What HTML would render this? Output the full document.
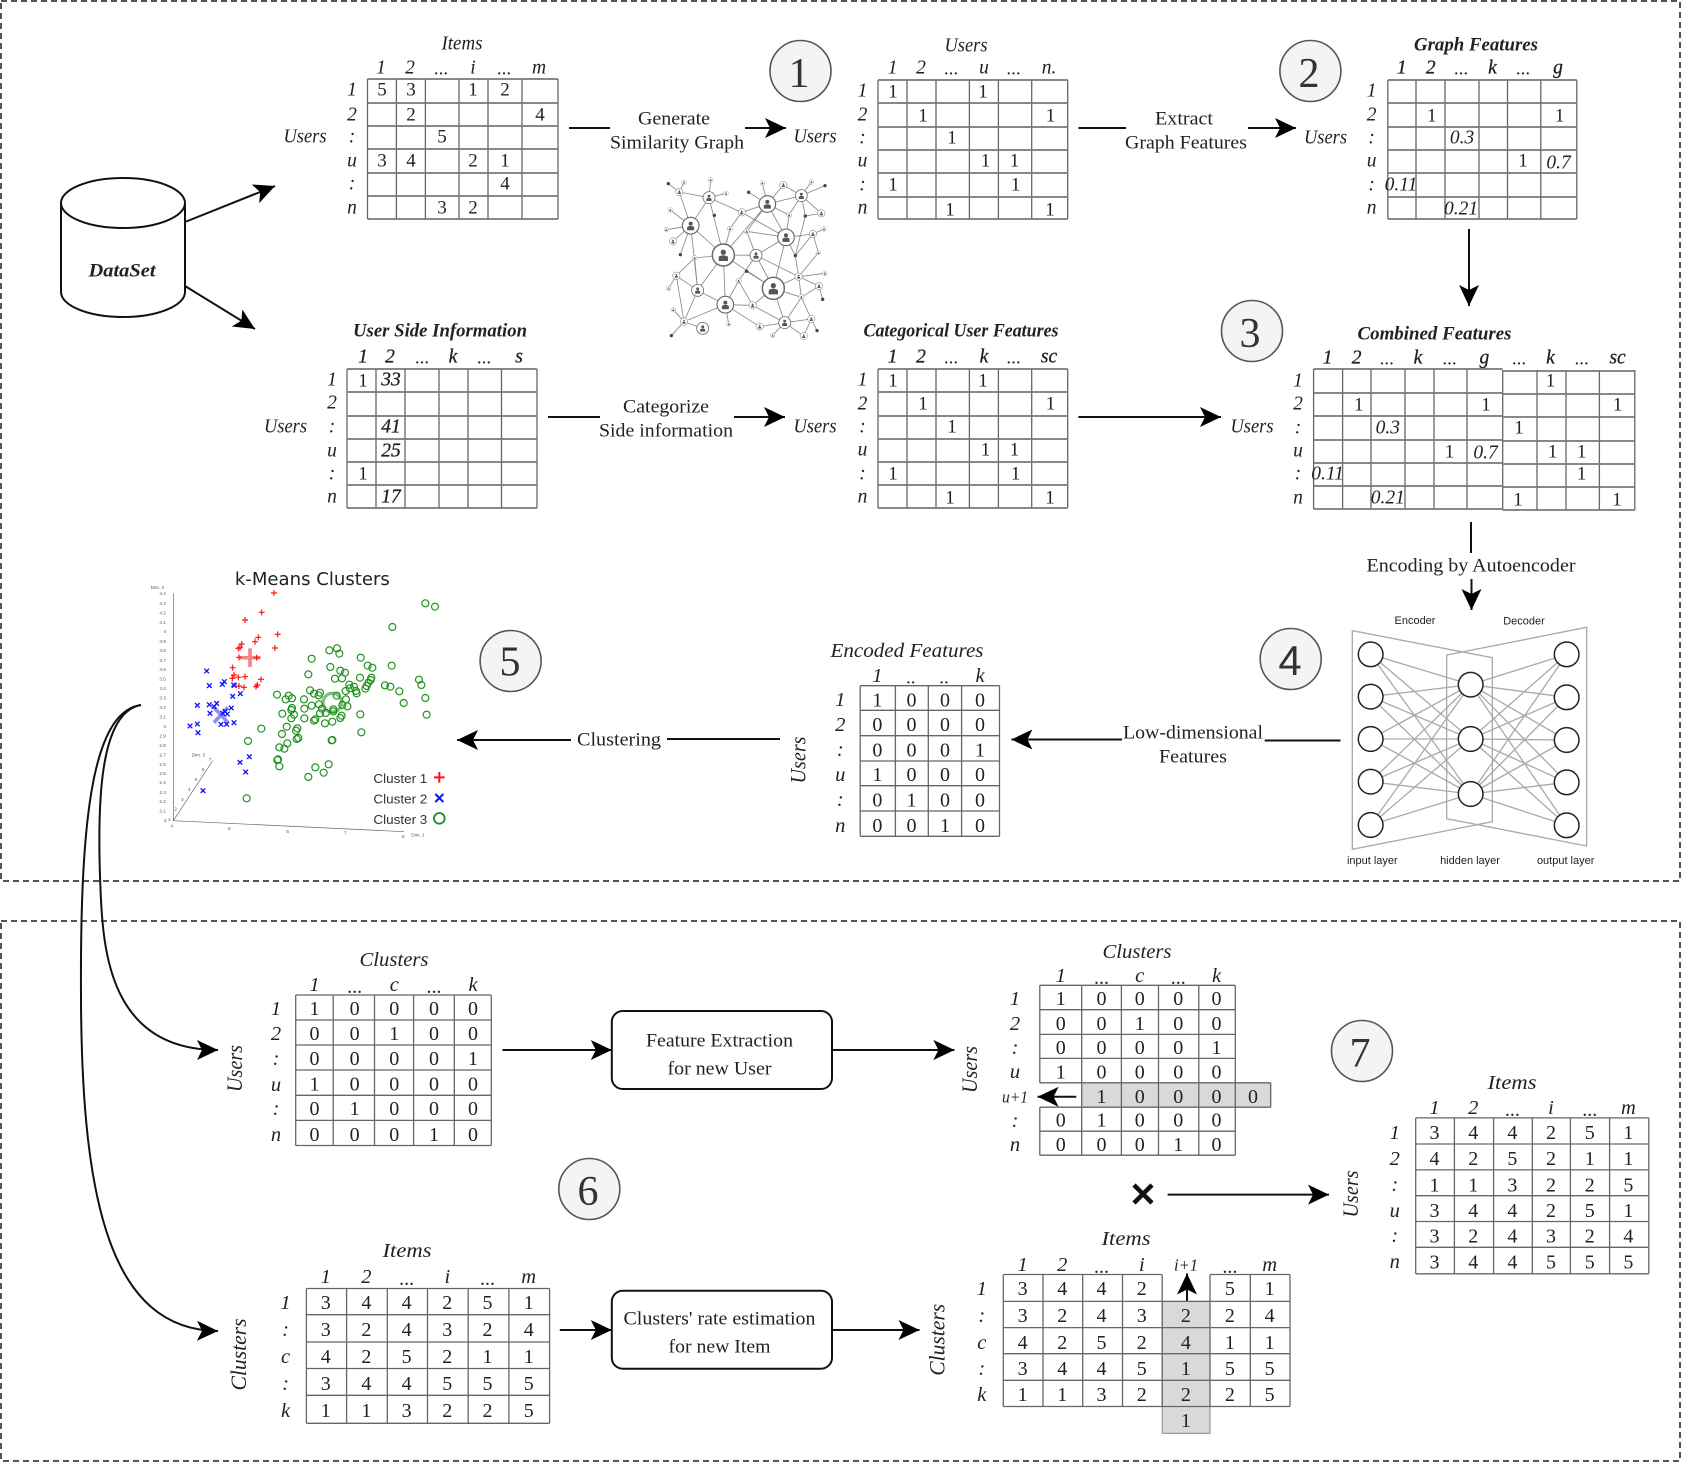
<!DOCTYPE html>
<html><head><meta charset="utf-8"><title>Diagram</title>
<style>
html,body{margin:0;padding:0;background:#fff}
svg{display:block}
text{dominant-baseline:central;text-anchor:middle;font-family:"Liberation Serif",serif;fill:#222;font-size:19px;translate:0 1.2px}
.i{font-style:italic;font-size:19.500px}
.b{font-style:italic;font-weight:bold}
.m{font-style:italic;font-size:19.500px;stroke:#222;stroke-width:.3px}
.s{font-family:"Liberation Sans",sans-serif}
.c{font-size:42px;fill:#333;translate:0 3px}
.c1{translate:0 1.500px}
.g{fill:none;stroke:#666;stroke-width:1.3}
.h{fill:none;stroke:#777;stroke-width:1.7}
.k{fill:none;stroke:#111;stroke-width:2}
.o{fill:#f4f4f4;stroke:#555;stroke-width:1.6}
.L{font-size:20px}
.i.L{font-size:20.500px}
.r{translate:1.500px 0;font-size:22px !important}
.sc text,.ae text{translate:0 3px}
.gp circle{r:10.500px}
.tk text{font-family:"Liberation Sans",sans-serif;font-size:14px;fill:#555}
</style></head><body>
<svg xmlns="http://www.w3.org/2000/svg" width="1682" height="1462" viewBox="0 0 1682 1462">
<defs>
<marker id="a" markerUnits="userSpaceOnUse" markerWidth="26" markerHeight="24" refX="21" refY="10" orient="auto"><path d="M0 0L21 10L0 20L5 10z" fill="#000"/></marker>
<g id="N"><circle r="1" fill="#fff" stroke="#666" stroke-width=".13"/><circle cy="-.25" r=".24" fill="#555"/><path d="M-.42 .55V.15Q0 -.1 .42 .15V.55z" fill="#555"/></g>
<filter id="bl"><feGaussianBlur stdDeviation=".35"/></filter>
</defs>

<!-- dashed frames -->
<rect x="1" y="1" width="1679" height="880" fill="none" stroke="#555" stroke-width="2" stroke-dasharray="6 4"/>
<rect x="1" y="921" width="1679" height="540" fill="none" stroke="#555" stroke-width="2" stroke-dasharray="6 4"/>

<!-- dataset -->
<path d="M61 203V292A62 25 0 0 0 185 292V203" fill="#fff" stroke="#111" stroke-width="2"/>
<ellipse cx="123" cy="203" rx="62" ry="25" fill="#fff" stroke="#111" stroke-width="2"/>
<text class="b" x="122" y="270" textLength="67" lengthAdjust="spacingAndGlyphs">DataSet</text>
<path class="k" d="M185 222L275 186" marker-end="url(#a)"/>
<path class="k" d="M185 286L255 329" marker-end="url(#a)"/>

<!-- T1 Items -->
<path class="g" d="M367.500 79V219M396.400 79V219M425.400 79V219M459 79V219M488 79V219M522 79V219M558 79V219"/>
<path class="h" d="M367.500 79H558M367.500 103H558M367.500 126H558M367.500 149H558M367.500 173H558M367.500 196H558M367.500 219H558"/>
<text class="i" x="462" y="43" textLength="41" lengthAdjust="spacingAndGlyphs">Items</text>
<text class="i" x="381 410 473 539" y="67">12im</text><text x="441" y="68">...</text><text x="504" y="68">...</text>
<text class="i" x="352 352 352 352 352 352" y="89 114 136 160 183 207">12:u:n</text>
<text class="i" x="305" y="136" textLength="43" lengthAdjust="spacingAndGlyphs">Users</text>
<text x="382 411 473 505" y="89">5312</text><text x="411 540" y="114">24</text><text x="442" y="136">5</text><text x="382 411 473 505" y="160">3421</text><text x="505" y="183">4</text><text x="442 473" y="207">32</text>
<path class="k" d="M569 128H610"/><path class="k" d="M745 128H786" marker-end="url(#a)"/>
<text x="674" y="118" textLength="72" lengthAdjust="spacingAndGlyphs">Generate</text>
<text x="677" y="142" textLength="134" lengthAdjust="spacingAndGlyphs">Similarity Graph</text>
<circle class="o" cx="800.500" cy="71" r="30.500"/><text class="c" x="799" y="71">1</text>

<!-- T2 Users -->
<path class="g" d="M878 80V219M907 80V219M936 80V219M969.400 80V219M998.400 80V219M1031.700 80V219M1067.700 80V219"/>
<path class="h" d="M878 80H1067.700M878 103H1067.700M878 127H1067.700M878 150H1067.700M878 173H1067.700M878 197H1067.700M878 219H1067.700"/>
<text class="i" x="966" y="45" textLength="43" lengthAdjust="spacingAndGlyphs">Users</text>
<text class="i" x="892.600 921 984" y="67">12u</text><text x="951" y="68">...</text><text x="1013.500" y="68">...</text><text class="i" x="1049" y="67">n.</text>
<text class="i" x="862.500 862.500 862.500 862.500 862.500 862.500" y="90 114 137 160 184 207">12:u:n</text>
<text class="i" x="815" y="136" textLength="43" lengthAdjust="spacingAndGlyphs">Users</text>
<text x="893 983" y="91">11</text><text x="923 1050.500" y="115">11</text><text x="952" y="137">1</text><text x="985.500 1014.500" y="160">11</text><text x="893 1015.600" y="184">11</text><text x="950 1050" y="209">11</text>
<path class="k" d="M1078.400 128H1126"/><path class="k" d="M1248 128H1296" marker-end="url(#a)"/>
<text x="1184" y="118" textLength="58" lengthAdjust="spacingAndGlyphs">Extract</text>
<text x="1186" y="142" textLength="122" lengthAdjust="spacingAndGlyphs">Graph Features</text>
<circle class="o" cx="1310.400" cy="71" r="30.500"/><text class="c" x="1309" y="71">2</text>

<!-- T4 Graph Features -->
<path class="g" d="M1387.800 80V219M1416 80V219M1445 80V219M1479 80V219M1507.500 80V219M1540.800 80V219M1576.800 80V219"/>
<path class="h" d="M1387.800 80H1576.800M1387.800 103H1576.800M1387.800 127H1576.800M1387.800 150H1576.800M1387.800 173H1576.800M1387.800 197H1576.800M1387.800 219H1576.800"/>
<text class="b" x="1476" y="44" textLength="124" lengthAdjust="spacingAndGlyphs">Graph Features</text>
<text class="m" x="1401.700 1430.700 1492.500 1558" y="67">12kg</text><text x="1461" y="68">...</text><text x="1523" y="68">...</text>
<text class="i" x="1371.600 1371.600 1371.600 1371.600 1371.600 1371.600" y="90 114 137 160 184 207">12:u:n</text>
<text class="i" x="1325.500" y="137" textLength="43" lengthAdjust="spacingAndGlyphs">Users</text>
<text x="1431.800 1559.600" y="115">11</text><text class="i" x="1462" y="137">0.3</text><text x="1523" y="160">1</text><text class="i" x="1558.500" y="162">0.7</text><text class="i" x="1401" y="184">0.11</text><text class="i" x="1461" y="208">0.21</text>
<path class="k" d="M1469 229V306" marker-end="url(#a)"/>

<!-- T3 User Side Information -->
<path class="g" d="M347 369V508M376 369V508M405 369V508M439 369V508M468 369V508M501.500 369V508M537 369V508"/>
<path class="h" d="M347 369H537M347 392H537M347 416H537M347 439H537M347 462H537M347 485H537M347 508H537"/>
<text class="b" x="440" y="330" textLength="174" lengthAdjust="spacingAndGlyphs">User Side Information</text>
<text class="m" x="363 390 453 519" y="356">12ks</text><text x="422" y="357">...</text><text x="484" y="357">...</text>
<text class="i" x="332 332 332 332 332 332" y="379 402 426 450 473 496">12:u:n</text>
<text class="i" x="285.500" y="426" textLength="43" lengthAdjust="spacingAndGlyphs">Users</text>
<text x="363" y="380">1</text><text class="m" x="391" y="379">33</text><text class="m" x="391" y="426">41</text><text class="m" x="391" y="450">25</text><text x="363" y="473">1</text><text class="m" x="391" y="496">17</text>
<path class="k" d="M548 417H600"/><path class="k" d="M734 417H785" marker-end="url(#a)"/>
<text x="666" y="406" textLength="86" lengthAdjust="spacingAndGlyphs">Categorize</text>
<text x="666" y="430" textLength="134" lengthAdjust="spacingAndGlyphs">Side information</text>
<text class="i" x="815" y="426" textLength="43" lengthAdjust="spacingAndGlyphs">Users</text>

<!-- T5 Categorical -->
<path class="g" d="M878 369V508M907 369V508M936 369V508M969.400 369V508M998.400 369V508M1031.700 369V508M1067.700 369V508"/>
<path class="h" d="M878 369H1067.700M878 392H1067.700M878 416H1067.700M878 439H1067.700M878 462H1067.700M878 485H1067.700M878 508H1067.700"/>
<text class="b" x="961" y="330" textLength="195" lengthAdjust="spacingAndGlyphs">Categorical User Features</text>
<text class="m" x="892.600 921 984" y="356">12k</text><text x="951" y="357">...</text><text x="1013.500" y="357">...</text><text class="m" x="1049" y="356">sc</text>
<text class="i" x="862.500 862.500 862.500 862.500 862.500 862.500" y="379 403 426 449 473 496">12:u:n</text>
<text x="893 983" y="380">11</text><text x="923 1050.500" y="403">11</text><text x="952" y="426">1</text><text x="985.500 1014.500" y="449">11</text><text x="893 1015.600" y="473">11</text><text x="950 1050" y="497">11</text>
<path class="k" d="M1078.400 417H1221" marker-end="url(#a)"/>
<text class="i" x="1252" y="426" textLength="43" lengthAdjust="spacingAndGlyphs">Users</text>
<circle class="o" cx="1252" cy="331" r="30.500"/><text class="c" x="1250" y="331">3</text>

<!-- T6 Combined -->
<path class="g" d="M1313.600 369V509M1342.600 369V509M1371 369V509M1405 369V509M1434 369V509M1467 369V509M1502.700 370V510M1537 370V510M1566 370V510M1599.400 370V510M1634.800 370V510"/>
<path class="h" d="M1313.600 369H1502.700M1313.600 393H1502.700M1313.600 416H1502.700M1313.600 440H1502.700M1313.600 463H1502.700M1313.600 486H1502.700M1313.600 509H1502.700M1502.700 371H1634.800M1502.700 394H1634.800M1502.700 417H1634.800M1502.700 441H1634.800M1502.700 464H1634.800M1502.700 487H1634.800M1502.700 510H1634.800"/>
<text class="b" x="1434.500" y="333" textLength="154" lengthAdjust="spacingAndGlyphs">Combined Features</text>
<text class="m" x="1327.600 1356.600 1418 1484.400 1550.500" y="357">12kgk</text><text x="1386.700" y="358">...</text><text x="1449.500" y="358">...</text><text x="1519" y="358">...</text><text x="1581.600" y="358">...</text><text class="m" x="1617.600" y="357">sc</text>
<text class="i" x="1298 1298 1298 1298 1298 1298" y="380 403 427 450 473 497">12:u:n</text>
<text x="1550.500" y="380">1</text><text x="1358.800 1486 1617.600" y="404">111</text><text class="i" x="1387.800" y="427">0.3</text><text x="1519" y="427">1</text><text x="1449.500 1552.600 1581.600" y="451">111</text><text class="i" x="1485.500" y="452">0.7</text><text class="i" x="1327.600" y="473">0.11</text><text x="1581.600" y="473">1</text><text class="i" x="1387.800" y="497">0.21</text><text x="1518 1617" y="499">11</text>

<path class="k" d="M1471 522V553" stroke-width="2.500"/>
<text x="1471" y="565" textLength="209" lengthAdjust="spacingAndGlyphs">Encoding by Autoencoder</text>
<path class="k" d="M1471.500 579V610" marker-end="url(#a)"/>

<!-- similarity graph -->
<g transform="translate(650 160) scale(.33333)" filter="url(#bl)">
<path fill="none" stroke="#888" stroke-width="2.500" d="M220 285L122 197M220 285L177 113M220 285L352 132M220 285L318 286M220 285L370 385M220 285L226 434M220 285L143 391M220 285L134 294M220 285L240 206M122 197L177 113M122 197L88 96M122 197L61 150M122 197L69 244M122 197L49 209M122 197L91 284M122 197L143 391M177 113L88 96M177 113L182 60M177 113L228 100M88 96L102 67M88 96L55 71M177 113L275 157M275 157L352 132M275 157L408 232M240 206L275 157M352 132L296 97M352 132L337 69M352 132L400 75M352 132L454 107M352 132L417 165M352 132L408 232M352 132L290 214M454 107L400 75M454 107L484 66M454 107L525 77M454 107L417 165M454 107L466 168M454 107L514 160M466 168L514 160M466 168L436 287M417 165L408 232M408 232L290 214M408 232L318 286M408 232L370 385M408 232L489 222M408 232L436 287M489 222L522 207M489 222L505 278M489 222L436 287M290 214L318 286M318 286L370 385M318 286L446 350M318 286L266 363M436 287L446 350M505 278L446 350M446 350L525 340M446 350L507 378M446 350L454 412M446 350L370 385M507 378L518 418M507 378L454 412M370 385L454 412M370 385L290 334M370 385L308 436M370 385L404 488M454 412L404 488M454 412L484 477M404 488L484 477M404 488L461 528M404 488L368 526M404 488L329 500M404 488L308 436M484 477L501 512M484 477L461 528M226 434L308 436M226 434L329 500M226 434L236 492M226 434L266 363M226 434L143 391M226 434L102 485M143 391L79 347M143 391L134 294M143 391L102 485M134 294L79 347M79 347L56 385M79 347L102 485M102 485L70 449M102 485L64 527M102 485L158 505M308 436L266 363"/>
<use href="#N" transform="translate(220 285) scale(33)"/><use href="#N" transform="translate(370 385) scale(33)"/><use href="#N" transform="translate(122 197) scale(25)"/><use href="#N" transform="translate(352 132) scale(25)"/><use href="#N" transform="translate(408 232) scale(25)"/><use href="#N" transform="translate(226 434) scale(25)"/><use href="#N" transform="translate(177 113) scale(18)"/><use href="#N" transform="translate(454 107) scale(18)"/><use href="#N" transform="translate(143 391) scale(18)"/><use href="#N" transform="translate(318 286) scale(18)"/><use href="#N" transform="translate(404 488) scale(18)"/><use href="#N" transform="translate(158 505) scale(18)"/>
<use href="#N" transform="translate(88 96) scale(11)"/><use href="#N" transform="translate(275 157) scale(11)"/><use href="#N" transform="translate(514 160) scale(11)"/><use href="#N" transform="translate(400 75) scale(11)"/><use href="#N" transform="translate(489 222) scale(11)"/><use href="#N" transform="translate(69 244) scale(11)"/><use href="#N" transform="translate(79 347) scale(11)"/><use href="#N" transform="translate(102 485) scale(11)"/><use href="#N" transform="translate(446 350) scale(11)"/><use href="#N" transform="translate(507 378) scale(11)"/><use href="#N" transform="translate(308 436) scale(11)"/><use href="#N" transform="translate(329 500) scale(11)"/><use href="#N" transform="translate(484 477) scale(11)"/><use href="#N" transform="translate(461 528) scale(11)"/>
<use href="#N" transform="translate(454 412) scale(8)"/><use href="#N" transform="translate(266 363) scale(8)"/><use href="#N" transform="translate(134 294) scale(8)"/><use href="#N" transform="translate(290 214) scale(8)"/><use href="#N" transform="translate(240 206) scale(8)"/><use href="#N" transform="translate(417 165) scale(8)"/>
<use href="#N" transform="translate(102 67) scale(7)"/><use href="#N" transform="translate(182 60) scale(7)"/><use href="#N" transform="translate(228 100) scale(7)"/><use href="#N" transform="translate(61 150) scale(7)"/><use href="#N" transform="translate(49 209) scale(7)"/><use href="#N" transform="translate(56 385) scale(7)"/><use href="#N" transform="translate(70 449) scale(7)"/><use href="#N" transform="translate(236 492) scale(7)"/><use href="#N" transform="translate(368 526) scale(7)"/><use href="#N" transform="translate(337 69) scale(7)"/><use href="#N" transform="translate(484 66) scale(7)"/><use href="#N" transform="translate(522 207) scale(7)"/><use href="#N" transform="translate(505 278) scale(7)"/><use href="#N" transform="translate(525 340) scale(7)"/>
<g fill="#444"><circle cx="55" cy="71" r="5"/><circle cx="296" cy="97" r="5"/><circle cx="525" cy="77" r="5"/><circle cx="193" cy="166" r="5"/><circle cx="466" cy="168" r="5"/><circle cx="91" cy="284" r="5"/><circle cx="436" cy="287" r="5"/><circle cx="290" cy="334" r="5"/><circle cx="518" cy="418" r="5"/><circle cx="64" cy="527" r="5"/><circle cx="501" cy="512" r="5"/></g>
</g>

<!-- autoencoder -->
<g class="ae" transform="translate(1320 600) scale(.33333)">
<g fill="none" stroke="#aaa" stroke-width="4">
<path d="M97 92L517 173V665L97 748z"/><path d="M800 82L380 165V656L800 738z"/>
<path d="M152 163L452 254M152 163L452 417M152 163L452 582M152 290L452 254M152 290L452 417M152 290L452 582M152 417L452 254M152 417L452 417M152 417L452 582M152 545L452 254M152 545L452 417M152 545L452 582M152 675L452 254M152 675L452 417M152 675L452 582M452 254L740 163M452 254L740 292M452 254L740 420M452 254L740 547M452 254L740 676M452 417L740 163M452 417L740 292M452 417L740 420M452 417L740 547M452 417L740 676M452 582L740 163M452 582L740 292M452 582L740 420M452 582L740 547M452 582L740 676"/>
</g>
<g fill="#fff" stroke="#222" stroke-width="4.500"><circle cx="152" cy="163" r="37"/><circle cx="152" cy="290" r="37"/><circle cx="152" cy="417" r="37"/><circle cx="152" cy="545" r="37"/><circle cx="152" cy="675" r="37"/><circle cx="452" cy="254" r="37"/><circle cx="452" cy="417" r="37"/><circle cx="452" cy="582" r="37"/><circle cx="740" cy="163" r="37"/><circle cx="740" cy="292" r="37"/><circle cx="740" cy="420" r="37"/><circle cx="740" cy="547" r="37"/><circle cx="740" cy="676" r="37"/></g>
<text class="s" x="285" y="60" style="font-size:33px">Encoder</text><text class="s" x="612" y="62" style="font-size:33px">Decoder</text>
<text class="s" x="157" y="780" style="font-size:33px">input layer</text><text class="s" x="450" y="780" style="font-size:33px">hidden layer</text><text class="s" x="737" y="780" style="font-size:33px">output layer</text>
</g>
<circle class="o" cx="1290.700" cy="659" r="30.500"/><text class="c c1 s" x="1290" y="659">4</text>

<path class="k" d="M1340.500 740.500H1264.700"/>
<text x="1193" y="732" textLength="140" lengthAdjust="spacingAndGlyphs">Low-dimensional</text>
<text x="1193" y="756" textLength="68" lengthAdjust="spacingAndGlyphs">Features</text>
<path class="k" d="M1122 739.500H1011.400" marker-end="url(#a)"/>

<!-- T7 Encoded -->
<path class="g" stroke-width="1.500" d="M860.200 685.700V836.300M895.400 685.700V836.300M928.300 685.700V836.300M961.600 685.700V836.300M999.500 685.700V836.300M860.200 685.700H999.500M860.200 710.300H999.500M860.200 735.700H999.500M860.200 761H999.500M860.200 785.700H999.500M860.200 811H999.500M860.200 836.300H999.500"/>
<text class="i L" x="907" y="650" textLength="153" lengthAdjust="spacingAndGlyphs">Encoded Features</text>
<text class="i L" x="877.400 980" y="675">1k</text><text x="910.700" y="677">..</text><text x="944" y="677">..</text>
<text class="i L" x="840.300 840.300 840.300 840.300 840.300 840.300" y="699 724 749 774 799 825">12:u:n</text>
<text class="L" x="877.400 911.500 945 980" y="699.300">1000</text><text class="L" x="877.400 911.500 945 980" y="724">0000</text><text class="L" x="877.400 911.500 945 980" y="749.300">0001</text><text class="L" x="877.400 911.500 945 980" y="774">1000</text><text class="L" x="877.400 911.500 945 980" y="799.300">0100</text><text class="L" x="877.400 911.500 945 980" y="825">0010</text>
<text class="i L r" transform="translate(796.700 760) rotate(-90)" textLength="47" lengthAdjust="spacingAndGlyphs">Users</text>

<path class="k" d="M780 739H667"/><path class="k" d="M571 740H457" marker-end="url(#a)"/>
<text x="619" y="739" textLength="84" lengthAdjust="spacingAndGlyphs">Clustering</text>
<circle class="o" cx="510.600" cy="661" r="30.500"/><text class="c c1" x="510" y="661">5</text>

<!-- scatter -->
<g class="sc" transform="translate(120 550) scale(.33333)">
<text x="577" y="86" style="font-family:'DejaVu Sans',sans-serif;font-size:54px;fill:#222" textLength="465" lengthAdjust="spacingAndGlyphs">k-Means Clusters</text>
<path fill="none" stroke="#666" stroke-width="2" d="M160 130V812L852 845M160 812L278 632"/>
<g class="tk"><text x="112" y="110">Dim. 2</text><text x="235" y="612">Dim. 3</text><text x="894" y="852">Dim. 1</text>
<text x="128" y="127">4.4</text><text x="128" y="157">4.3</text><text x="128" y="186">4.2</text><text x="128" y="214">4.1</text><text x="134" y="242">4</text><text x="128" y="271">3.9</text><text x="128" y="299">3.8</text><text x="128" y="328">3.7</text><text x="128" y="356">3.6</text><text x="128" y="384">3.5</text><text x="128" y="413">3.4</text><text x="128" y="441">3.3</text><text x="128" y="470">3.2</text><text x="128" y="498">3.1</text><text x="134" y="526">3</text><text x="128" y="555">2.9</text><text x="128" y="584">2.8</text><text x="128" y="612">2.7</text><text x="128" y="640">2.6</text><text x="128" y="668">2.5</text><text x="128" y="695">2.4</text><text x="128" y="724">2.3</text><text x="128" y="752">2.2</text><text x="128" y="780">2.1</text><text x="136" y="808">2</text>
<text x="155" y="825">4</text><text x="328" y="833">5</text><text x="503" y="842">6</text><text x="676" y="846">7</text><text x="850" y="856">8</text><text x="148" y="805">1</text>
<text x="167" y="774">2</text><text x="187" y="745">3</text><text x="208" y="715">4</text><text x="228" y="685">5</text><text x="249" y="655">6</text><text x="270" y="625">7</text></g>
<path fill="none" stroke="#ee2222" stroke-opacity=".55" stroke-width="11" d="M358 323H422M390 295V351"/>
<path fill="none" stroke="#3333ee" stroke-opacity=".55" stroke-width="11" d="M282 472L324 518M324 472L282 518"/>
<circle cx="637" cy="458" r="28" fill="none" stroke="#2a9a2a" stroke-opacity=".6" stroke-width="10"/>
<path fill="none" stroke="#f11" stroke-width="3.500" d="M453 129h18M462 120v18M416 187h18M425 178v18M366 210h18M375 201v18M464 253h18M473 244v18M406 262h18M415 253v18M396 275h18M405 266v18M456 294h18M465 285v18M356 282h18M365 273v18M346 295h18M355 286v18M351 293h18M360 284v18M348 322h18M357 313v18M401 323h18M410 314v18M329 353h18M338 344v18M333 375h18M342 366v18M328 385h18M337 376v18M346 382h18M355 373v18M366 380h18M375 371v18M414 388h18M423 379v18M348 408h18M357 399v18M363 412h18M372 403v18M399 410h18M408 401v18M403 405h18M412 396v18"/>
<path fill="none" stroke="#11f" stroke-width="4" d="M253 356l14 14m0-14l-14 14M261 400l14 14m0-14l-14 14M306 388l14 14m0-14l-14 14M300 396l14 14m0-14l-14 14M334 398l14 14m0-14l-14 14M336 399l14 14m0-14l-14 14M331 432l14 14m0-14l-14 14M354 424l14 14m0-14l-14 14M225 459l14 14m0-14l-14 14M261 457l14 14m0-14l-14 14M283 453l14 14m0-14l-14 14M275 463l14 14m0-14l-14 14M327 467l14 14m0-14l-14 14M263 483l14 14m0-14l-14 14M301 483l14 14m0-14l-14 14M315 485l14 14m0-14l-14 14M308 477l14 14m0-14l-14 14M203 521l14 14m0-14l-14 14M225 515l14 14m0-14l-14 14M227 541l14 14m0-14l-14 14M296 516l14 14m0-14l-14 14M313 516l14 14m0-14l-14 14M335 511l14 14m0-14l-14 14M353 630l14 14m0-14l-14 14M381 613l14 14m0-14l-14 14M370 659l14 14m0-14l-14 14M242 715l14 14m0-14l-14 14"/>
<g class="gp" fill="none" stroke="#1f8f1f" stroke-width="3.500"><circle cx="916" cy="160" r="9.500"/><circle cx="945" cy="170" r="9.500"/><circle cx="817" cy="231" r="9.500"/><circle cx="628" cy="301" r="9.500"/><circle cx="651" cy="295" r="9.500"/><circle cx="658" cy="311" r="9.500"/><circle cx="575" cy="326" r="9.500"/><circle cx="722" cy="323" r="9.500"/><circle cx="743" cy="347" r="9.500"/><circle cx="757" cy="353" r="9.500"/><circle cx="815" cy="347" r="9.500"/><circle cx="631" cy="351" r="9.500"/><circle cx="661" cy="362" r="9.500"/><circle cx="675" cy="368" r="9.500"/><circle cx="565" cy="373" r="9.500"/><circle cx="645" cy="386" r="9.500"/><circle cx="666" cy="385" r="9.500"/><circle cx="720" cy="383" r="9.500"/><circle cx="754" cy="383" r="9.500"/><circle cx="752" cy="390" r="9.500"/><circle cx="745" cy="398" r="9.500"/><circle cx="740" cy="408" r="9.500"/><circle cx="736" cy="416" r="9.500"/><circle cx="897" cy="389" r="9.500"/><circle cx="904" cy="405" r="9.500"/><circle cx="795" cy="406" r="9.500"/><circle cx="811" cy="410" r="9.500"/><circle cx="838" cy="424" r="9.500"/><circle cx="688" cy="404" r="9.500"/><circle cx="702" cy="410" r="9.500"/><circle cx="690" cy="415" r="9.500"/><circle cx="677" cy="423" r="9.500"/><circle cx="710" cy="430" r="9.500"/><circle cx="708" cy="423" r="9.500"/><circle cx="570" cy="421" r="9.500"/><circle cx="582" cy="431" r="9.500"/><circle cx="600" cy="428" r="9.500"/><circle cx="596" cy="436" r="9.500"/><circle cx="471" cy="434" r="9.500"/><circle cx="506" cy="437" r="9.500"/><circle cx="516" cy="445" r="9.500"/><circle cx="497" cy="448" r="9.500"/><circle cx="552" cy="448" r="9.500"/><circle cx="650" cy="437" r="9.500"/><circle cx="678" cy="448" r="9.500"/><circle cx="916" cy="444" r="9.500"/><circle cx="851" cy="459" r="9.500"/><circle cx="597" cy="463" r="9.500"/><circle cx="575" cy="467" r="9.500"/><circle cx="516" cy="474" r="9.500"/><circle cx="514" cy="480" r="9.500"/><circle cx="553" cy="476" r="9.500"/><circle cx="606" cy="476" r="9.500"/><circle cx="640" cy="478" r="9.500"/><circle cx="667" cy="465" r="9.500"/><circle cx="682" cy="469" r="9.500"/><circle cx="920" cy="494" r="9.500"/><circle cx="487" cy="491" r="9.500"/><circle cx="522" cy="494" r="9.500"/><circle cx="617" cy="489" r="9.500"/><circle cx="600" cy="490" r="9.500"/><circle cx="640" cy="484" r="9.500"/><circle cx="721" cy="493" r="9.500"/><circle cx="514" cy="505" r="9.500"/><circle cx="553" cy="505" r="9.500"/><circle cx="582" cy="512" r="9.500"/><circle cx="586" cy="508" r="9.500"/><circle cx="665" cy="497" r="9.500"/><circle cx="661" cy="504" r="9.500"/><circle cx="615" cy="520" r="9.500"/><circle cx="637" cy="515" r="9.500"/><circle cx="500" cy="530" r="9.500"/><circle cx="532" cy="535" r="9.500"/><circle cx="528" cy="542" r="9.500"/><circle cx="486" cy="552" r="9.500"/><circle cx="424" cy="536" r="9.500"/><circle cx="724" cy="547" r="9.500"/><circle cx="535" cy="564" r="9.500"/><circle cx="530" cy="567" r="9.500"/><circle cx="637" cy="570" r="9.500"/><circle cx="635" cy="571" r="9.500"/><circle cx="384" cy="573" r="9.500"/><circle cx="502" cy="580" r="9.500"/><circle cx="478" cy="592" r="9.500"/><circle cx="493" cy="596" r="9.500"/><circle cx="474" cy="628" r="9.500"/><circle cx="472" cy="630" r="9.500"/><circle cx="478" cy="649" r="9.500"/><circle cx="626" cy="643" r="9.500"/><circle cx="586" cy="652" r="9.500"/><circle cx="611" cy="668" r="9.500"/><circle cx="565" cy="681" r="9.500"/><circle cx="380" cy="745" r="9.500"/></g>
<text class="s" x="841" y="682" style="font-size:39px;fill:#333" textLength="162" lengthAdjust="spacingAndGlyphs">Cluster 1</text><text class="s" x="841" y="744" style="font-size:39px;fill:#333" textLength="162" lengthAdjust="spacingAndGlyphs">Cluster 2</text><text class="s" x="841" y="805" style="font-size:39px;fill:#333" textLength="162" lengthAdjust="spacingAndGlyphs">Cluster 3</text>
<path fill="none" stroke="#f11" stroke-width="6" d="M942 682h32M958 666v32"/>
<path fill="none" stroke="#11f" stroke-width="6" d="M946 732l24 24m0-24l-24 24"/>
<circle cx="958" cy="805" r="16" fill="none" stroke="#1f8f1f" stroke-width="5.500"/>
</g>

<!-- curves -->
<path class="k" d="M141 705C100 712 96 800 101 900C104 960 115 1050 218 1050" marker-end="url(#a)"/>
<path class="k" d="M141 705C90 712 80 830 81 1000C82 1200 110 1330 218 1331" marker-end="url(#a)"/>

<!-- T8 Clusters -->
<path class="g" d="M295.700 995V1145.500M333.200 995V1145.500M374.500 995V1145.500M413.600 995V1145.500M454.300 995V1145.500M491.300 995V1145.500M295.700 995H491.300M295.700 1020H491.300M295.700 1045H491.300M295.700 1070H491.300M295.700 1095.300H491.300M295.700 1120.400H491.300M295.700 1145.500H491.300"/>
<text class="i L" x="394" y="959" textLength="69" lengthAdjust="spacingAndGlyphs">Clusters</text>
<text class="i L" x="314.500 394.300 473" y="984">1ck</text><text class="L" x="354.600" y="986">...</text><text class="L" x="434" y="986">...</text>
<text class="i L" x="276 276 276 276 276 276" y="1008 1033 1058 1084 1108 1134">12:u:n</text>
<text class="L" x="314.500 354.600 394.300 434 473" y="1008">10000</text><text class="L" x="314.500 354.600 394.300 434 473" y="1033">00100</text><text class="L" x="314.500 354.600 394.300 434 473" y="1058">00001</text><text class="L" x="314.500 354.600 394.300 434 473" y="1083.500">10000</text><text class="L" x="314.500 354.600 394.300 434 473" y="1108">01000</text><text class="L" x="314.500 354.600 394.300 434 473" y="1133.700">00010</text>
<text class="i L r" transform="translate(233 1068.500) rotate(-90)" textLength="47" lengthAdjust="spacingAndGlyphs">Users</text>
<path class="k" d="M502.500 1050H611.800" marker-end="url(#a)"/>
<rect x="611.800" y="1011" width="220.200" height="78" rx="11" fill="#fff" stroke="#111" stroke-width="2"/>
<text x="719.500" y="1040" textLength="147" lengthAdjust="spacingAndGlyphs">Feature Extraction</text>
<text x="719.500" y="1068" textLength="104" lengthAdjust="spacingAndGlyphs">for new User</text>
<path class="k" d="M832 1050H954.400" marker-end="url(#a)"/>

<!-- T9 Items -->
<path class="g" d="M306.400 1288.500V1423.300M346.600 1288.500V1423.300M387.300 1288.500V1423.300M427.500 1288.500V1423.300M468.200 1288.500V1423.300M508.900 1288.500V1423.300M549.600 1288.500V1423.300M306.400 1288.500H549.600M306.400 1314.700H549.600M306.400 1342H549.600M306.400 1368.500H549.600M306.400 1395.300H549.600M306.400 1423.300H549.600"/>
<text class="i L" x="407" y="1250" textLength="49" lengthAdjust="spacingAndGlyphs">Items</text>
<text class="i L" x="325.700 366.400 447.300 528.700" y="1276">12im</text><text class="L" x="406.600" y="1278">...</text><text class="L" x="487.500" y="1278">...</text>
<text class="i L" x="285.500 285.500 285.500 285.500 285.500" y="1302 1329 1356 1383 1410">1:c:k</text>
<text class="L" x="325.700 366.400 406.600 447.300 487.500 528.700" y="1302">344251</text><text class="L" x="325.700 366.400 406.600 447.300 487.500 528.700" y="1329">324324</text><text class="L" x="325.700 366.400 406.600 447.300 487.500 528.700" y="1356">425211</text><text class="L" x="325.700 366.400 406.600 447.300 487.500 528.700" y="1382.800">344555</text><text class="L" x="325.700 366.400 406.600 447.300 487.500 528.700" y="1409.700">113225</text>
<text class="i L r" transform="translate(236.800 1354.500) rotate(-90)" textLength="72" lengthAdjust="spacingAndGlyphs">Clusters</text>
<path class="k" d="M559.800 1330H611.800" marker-end="url(#a)"/>
<rect x="611.800" y="1290.700" width="220.200" height="78" rx="11" fill="#fff" stroke="#111" stroke-width="2"/>
<text x="719.500" y="1318" textLength="192" lengthAdjust="spacingAndGlyphs">Clusters' rate estimation</text>
<text x="719.500" y="1346" textLength="102" lengthAdjust="spacingAndGlyphs">for new Item</text>
<path class="k" d="M832 1330H919.500" marker-end="url(#a)"/>
<circle class="o" cx="589.300" cy="1189" r="30.500"/><text class="c" x="588" y="1189">6</text>

<!-- T10 Clusters -->
<rect x="1081.700" y="1082.800" width="189" height="24.400" fill="#d9d9d9"/>
<path class="g" stroke="#444" d="M1039.800 985.300V1082.800M1039.800 1107.200V1155.200M1081.700 985.300V1155.200M1121.400 985.300V1155.200M1158.500 985.300V1155.200M1198.800 985.300V1155.200M1235.300 985.300V1155.200M1270.700 1082.800V1107.200M1039.800 985.300H1235.300M1039.800 1009.700H1235.300M1039.800 1034.400H1235.300M1039.800 1058.400H1235.300M1039.800 1082.800H1270.700M1039.800 1107.200H1270.700M1039.800 1131.200H1235.300M1039.800 1155.200H1235.300"/>
<text class="i L" x="1137" y="951" textLength="69" lengthAdjust="spacingAndGlyphs">Clusters</text>
<text class="i L" x="1060.700 1139.700 1216.500" y="975">1ck</text><text class="L" x="1101.500" y="977">...</text><text class="L" x="1178.300" y="977">...</text>
<text class="i L" x="1015 1015 1015 1015 1015 1015" y="998 1023 1047 1071 1120 1144">12:u:n</text>
<text class="i" x="1015" y="1096" style="font-size:17px" textLength="26" lengthAdjust="spacingAndGlyphs">u+1</text>
<text class="L" x="1060.700 1101.500 1139.700 1178.300 1216.500" y="997.800">10000</text><text class="L" x="1060.700 1101.500 1139.700 1178.300 1216.500" y="1022.600">00100</text><text class="L" x="1060.700 1101.500 1139.700 1178.300 1216.500" y="1047">00001</text><text class="L" x="1060.700 1101.500 1139.700 1178.300 1216.500" y="1071.300">10000</text><text class="L" x="1101.500 1139.700 1178.300 1216.500 1253" y="1095.700">10000</text><text class="L" x="1060.700 1101.500 1139.700 1178.300 1216.500" y="1119.400">01000</text><text class="L" x="1060.700 1101.500 1139.700 1178.300 1216.500" y="1143.700">00010</text>
<text class="i L r" transform="translate(967.800 1069.500) rotate(-90)" textLength="47" lengthAdjust="spacingAndGlyphs">Users</text>
<path class="k" d="M1076.300 1096.800H1037.600" marker-end="url(#a)"/>

<path fill="none" stroke="#111" stroke-width="4.500" d="M1134 1185L1152 1203M1152 1185L1134 1203"/>
<path class="k" d="M1167.600 1194.600H1329" marker-end="url(#a)"/>
<circle class="o" cx="1362" cy="1051" r="30.500"/><text class="c" x="1360" y="1051">7</text>

<!-- T11 Items -->
<rect x="1162.200" y="1301.400" width="47.800" height="131.900" fill="#d9d9d9" stroke="#888" stroke-width="1"/>
<path class="g" stroke="#444" d="M1003.300 1274.500V1406.500M1043 1274.500V1406.500M1082.700 1274.500V1406.500M1122.500 1274.500V1406.500M1162.200 1274.500V1406.500M1210 1274.500V1406.500M1250.300 1274.500V1406.500M1290 1274.500V1406.500M1003.300 1274.500H1162.200M1210 1274.500H1290M1003.300 1301.400H1290M1003.300 1327.600H1290M1003.300 1353.700H1290M1003.300 1380.300H1290M1003.300 1406.500H1290"/>
<text class="i L" x="1126" y="1237.600" textLength="49" lengthAdjust="spacingAndGlyphs">Items</text>
<text class="i L" x="1022.600 1062.300 1141.800 1269.600" y="1263.800">12im</text><text class="L" x="1101.500" y="1266">...</text><text class="L" x="1229.900" y="1266">...</text><text class="i" x="1186" y="1264" style="font-size:17px" textLength="24" lengthAdjust="spacingAndGlyphs">i+1</text>
<text class="i L" x="981.800 981.800 981.800 981.800 981.800" y="1288 1315 1342 1368 1394">1:c:k</text>
<text class="L" x="1022.600 1062.300 1101.500 1141.800 1229.900 1269.600" y="1288">344251</text><text class="L" x="1022.600 1062.300 1101.500 1141.800 1185.900 1229.900 1269.600" y="1314.700">3243224</text><text class="L" x="1022.600 1062.300 1101.500 1141.800 1185.900 1229.900 1269.600" y="1341.600">4252411</text><text class="L" x="1022.600 1062.300 1101.500 1141.800 1185.900 1229.900 1269.600" y="1367.700">3445155</text><text class="L" x="1022.600 1062.300 1101.500 1141.800 1185.900 1229.900 1269.600" y="1394">1132225</text><text class="L" x="1185.900" y="1419.700">1</text>
<text class="i L r" transform="translate(935.600 1339.800) rotate(-90)" textLength="72" lengthAdjust="spacingAndGlyphs">Clusters</text>
<path class="k" d="M1187 1300.700V1273.500" marker-end="url(#a)"/>

<!-- T12 -->
<path class="g" d="M1415.700 1117.900V1273.800M1454.400 1117.900V1273.800M1493.600 1117.900V1273.800M1532.300 1117.900V1273.800M1570.400 1117.900V1273.800M1609.600 1117.900V1273.800M1648.800 1117.900V1273.800M1415.700 1117.900H1648.800M1415.700 1144H1648.800M1415.700 1169.900H1648.800M1415.700 1195.700H1648.800M1415.700 1221.500H1648.800M1415.700 1247.300H1648.800M1415.700 1273.800H1648.800"/>
<text class="i L" x="1512" y="1081.700" textLength="49" lengthAdjust="spacingAndGlyphs">Items</text>
<text class="i L" x="1434.500 1473.200 1551 1628.400" y="1106.800">12im</text><text class="L" x="1512.400" y="1109">...</text><text class="L" x="1589.700" y="1109">...</text>
<text class="i L" x="1394.800 1394.800 1394.800 1394.800 1394.800 1394.800" y="1132 1158 1184 1210 1235 1261">12:u:n</text>
<text class="L" x="1434.500 1473.200 1512.400 1551 1589.700 1628.400" y="1131.900">344251</text><text class="L" x="1434.500 1473.200 1512.400 1551 1589.700 1628.400" y="1158">425211</text><text class="L" x="1434.500 1473.200 1512.400 1551 1589.700 1628.400" y="1184.200">113225</text><text class="L" x="1434.500 1473.200 1512.400 1551 1589.700 1628.400" y="1210">344251</text><text class="L" x="1434.500 1473.200 1512.400 1551 1589.700 1628.400" y="1235.500">324324</text><text class="L" x="1434.500 1473.200 1512.400 1551 1589.700 1628.400" y="1261.300">344555</text>
<text class="i L r" transform="translate(1349 1194) rotate(-90)" textLength="47" lengthAdjust="spacingAndGlyphs">Users</text>
</svg>
</body></html>
